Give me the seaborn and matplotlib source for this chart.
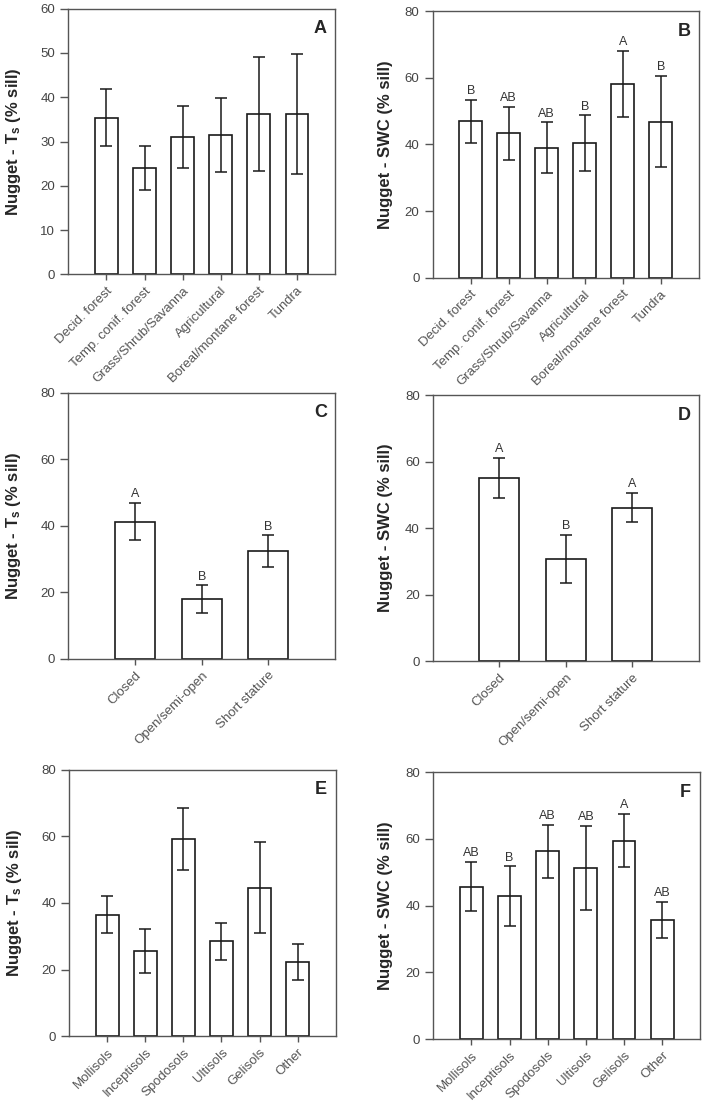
import matplotlib
matplotlib.use("Agg")
import matplotlib.pyplot as plt
import seaborn as sns
import numpy as np
import pandas as pd

# --- data (nugget as % of sill, mean +/- error) ---
biome = ["Decid. forest", "Temp. conif. forest", "Grass/Shrub/Savanna",
         "Agricultural", "Boreal/montane forest", "Tundra"]
ts_biome = [35.4, 24.1, 31.1, 31.5, 36.2, 36.2]
ts_biome_err = [6.5, 5.0, 7.0, 8.3, 12.8, 13.5]
swc_biome = [46.9, 43.3, 39.0, 40.4, 58.2, 46.8]
swc_biome_err = [6.4, 7.9, 7.6, 8.3, 9.9, 13.7]
swc_biome_sig = ["B", "AB", "AB", "B", "A", "B"]

stature = ["Closed", "Open/semi-open", "Short stature"]
ts_stature = [41.2, 18.0, 32.4]
ts_stature_err = [5.6, 4.1, 4.7]
ts_stature_sig = ["A", "B", "B"]
swc_stature = [55.0, 30.7, 46.2]
swc_stature_err = [6.0, 7.2, 4.3]
swc_stature_sig = ["A", "B", "A"]

soil = ["Mollisols", "Inceptisols", "Spodosols", "Ultisols", "Gelisols", "Other"]
ts_soil = [36.5, 25.7, 59.1, 28.5, 44.6, 22.3]
ts_soil_err = [5.6, 6.6, 9.3, 5.5, 13.6, 5.5]
swc_soil = [45.7, 42.8, 56.3, 51.3, 59.5, 35.7]
swc_soil_err = [7.4, 9.0, 8.0, 12.5, 7.9, 5.5]
swc_soil_sig = ["AB", "B", "AB", "AB", "A", "AB"]

ts_label = "Nugget - T$_\\mathbf{s}$ (% sill)"
swc_label = "Nugget - SWC (% sill)"

sns.set_style("ticks")
plt.rcParams['font.family'] = ['Liberation Sans', 'DejaVu Sans']
plt.rcParams['mathtext.fontset'] = 'custom'
plt.rcParams['mathtext.rm'] = 'Liberation Sans'
plt.rcParams['mathtext.it'] = 'Liberation Sans:bold'
plt.rcParams['mathtext.bf'] = 'Liberation Sans:bold'

fig = plt.figure(figsize=(7.04, 11.01), dpi=100)
spine_col = "#555555"
bar_col = "#1a1a1a"


def panel(rect, cats, vals, errs, sig, ymax, ystep, ylabel, tag, lab_x):
    ax = fig.add_axes(rect)
    df = pd.DataFrame({"cat": cats, "val": vals})
    sns.barplot(data=df, x="cat", y="val", order=cats, color="white",
                saturation=1, edgecolor=bar_col, linewidth=1.2, width=0.6,
                errorbar=None, ax=ax)
    x = np.arange(len(cats))
    ax.errorbar(x, vals, yerr=errs, fmt="none", ecolor=bar_col,
                elinewidth=1.1, capsize=4, capthick=1.1, zorder=3)
    if sig is not None:
        for xi, v, e, s in zip(x, vals, errs, sig):
            ax.annotate(s, (xi, v + e), xytext=(0, 2), textcoords="offset points",
                        ha="center", va="bottom", fontsize=9, color="#333333")
    ax.set_xlim(-1, len(cats))
    ax.set_ylim(0, ymax)
    ax.set_yticks(np.arange(0, ymax + 1, ystep))
    ax.set_xticks(x)
    ax.set_xticklabels(cats, rotation=45, ha="right", rotation_mode="anchor",
                       fontsize=9.5, color="#333333")
    ax.tick_params(axis="y", direction="out", length=6, width=1,
                   colors=spine_col, labelsize=9.5, labelcolor="#444444")
    ax.tick_params(axis="x", direction="out", length=4.5, width=1,
                   colors=spine_col, pad=3)
    for sp in ax.spines.values():
        sp.set_visible(True)
        sp.set_color(spine_col)
        sp.set_linewidth(1)
    ax.set_xlabel("")
    ax.set_ylabel(ylabel, fontsize=12, fontweight="bold")
    ax.yaxis.set_label_coords(lab_x, 0.5)
    ax.text(0.945, 0.925, tag, transform=ax.transAxes, ha="center",
            va="center", fontsize=13, fontweight="bold")
    return ax


panel([0.097, 0.7507, 0.379, 0.2415], biome, ts_biome, ts_biome_err, None,
      60, 10, ts_label, "A", -0.17)
panel([0.6146, 0.7478, 0.378, 0.2422], biome, swc_biome, swc_biome_err,
      swc_biome_sig, 80, 20, swc_label, "B", -0.15)
panel([0.097, 0.4016, 0.379, 0.2417], stature, ts_stature, ts_stature_err,
      ts_stature_sig, 80, 20, ts_label, "C", -0.17)
panel([0.615, 0.3994, 0.3775, 0.2418], stature, swc_stature, swc_stature_err,
      swc_stature_sig, 80, 20, swc_label, "D", -0.15)
panel([0.0984, 0.0588, 0.3784, 0.2421], soil, ts_soil, ts_soil_err, None,
      80, 20, ts_label, "E", -0.17)
panel([0.6155, 0.0563, 0.3792, 0.2423], soil, swc_soil, swc_soil_err,
      swc_soil_sig, 80, 20, swc_label, "F", -0.15)

fig.savefig("out.png", dpi=100)
